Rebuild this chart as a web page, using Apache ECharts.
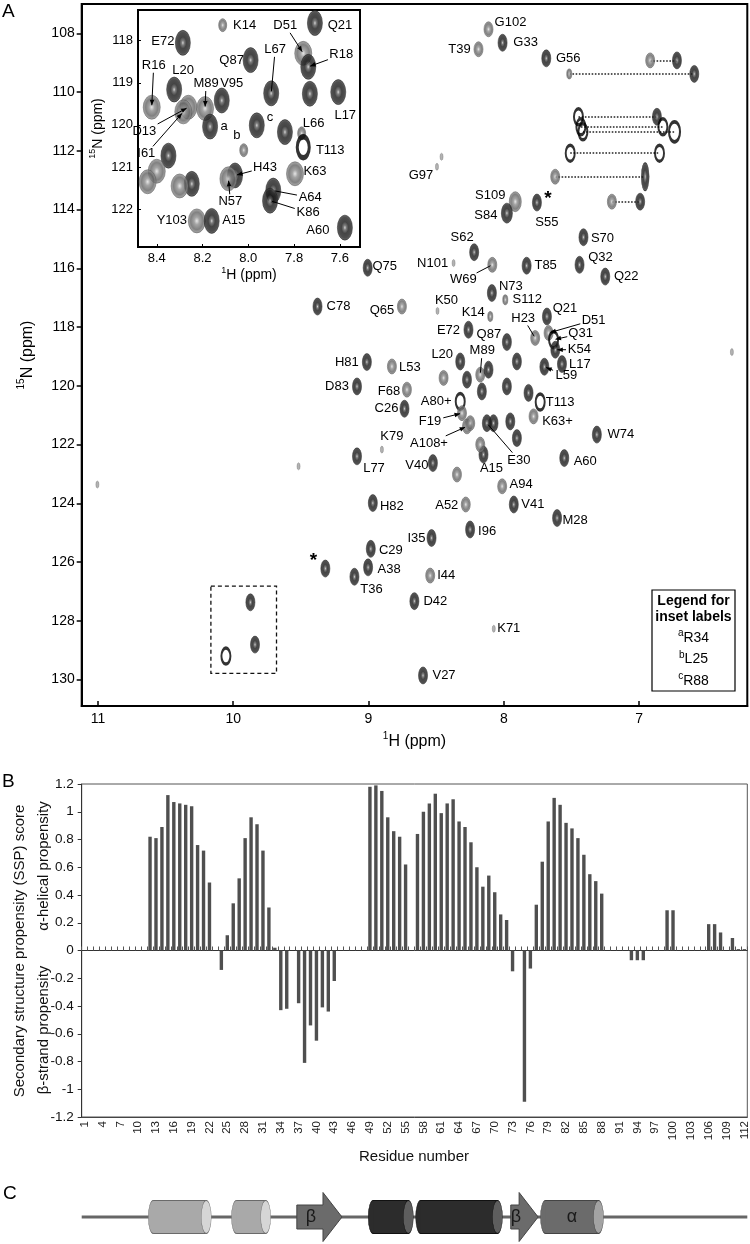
<!DOCTYPE html>
<html>
<head>
<meta charset="utf-8">
<title>HSQC spectrum, SSP scores and secondary structure</title>
<script src="https://cdn.jsdelivr.net/npm/echarts@6.0.0/dist/echarts.min.js"></script>
<style>
html,body{margin:0;padding:0;background:#fff;}
#chart{width:750px;height:1244px;}
</style>
</head>
<body>
<div id="chart"></div>
<script>
// ================= DATA =================
// ---- Panel A, main spectrum: backbone amide peaks (1H ppm, 15N ppm)
const mainName = ['G102','G33','T39','G56','G97','S109','S84','S55','S70','S62','Q32','T85','N101','Q75','W69','Q22','N73','S112','C78','Q65','K50','K14','Q21','E72','H23','D51','Q31','K54','Q87','H81','L53','L20','M89','L17','L59','D83','F68','C26','A80+','T113','K63+','F19','A108+','E30','W74','K79','L77','V40','A15','A60','A94','H82','A52','V41','M28','I96','I35','C29','A38','T36','I44','D42','K71','V27',
  '','','','','','','','',
  '','','','','','','','','','','','',''];
const mainH = [8.113,8.009,8.187,7.686,8.494,7.915,7.977,7.755,7.411,8.219,7.440,7.831,8.371,9.006,8.085,7.250,8.088,7.989,9.377,8.753,8.490,8.100,7.681,8.261,7.768,7.669,7.632,7.619,7.977,9.012,8.827,8.322,8.174,7.570,7.700,9.085,8.716,8.734,8.322,7.731,7.780,8.309,8.272,8.125,7.312,8.901,9.085,8.524,8.150,7.553,8.012,8.968,8.281,7.926,7.606,8.249,8.534,8.983,9.003,9.104,8.544,8.661,8.074,8.597,
  9.319,9.873,9.839,10.054,6.314,11.004,9.517,8.460,
  8.445,8.272,8.113,8.162,7.977,7.903,7.817,7.952,7.903,8.076,8.248,8.346,8.174];
const mainN = [107.86,108.32,108.54,108.85,112.54,113.73,114.12,113.76,114.94,115.45,115.88,115.91,115.82,115.98,115.88,116.28,116.84,117.07,117.30,117.30,117.45,117.64,117.64,118.09,118.37,118.20,118.43,118.77,118.51,119.19,119.34,119.17,119.62,119.26,119.35,120.02,120.13,120.78,120.53,120.55,121.04,120.93,121.38,121.27,121.66,122.17,122.40,122.63,122.34,122.46,123.42,123.99,124.04,124.04,124.50,124.89,125.18,125.55,126.18,126.50,126.46,127.33,128.27,129.86,
  126.22,127.37,128.81,129.20,118.85,123.36,122.74,112.20,
  119.73,119.79,119.45,120.19,120.02,119.17,120.24,121.21,121.78,121.27,121.27,123.02,122.00];

// ---- Panel A: side-chain NH2 peak pairs joined by dotted lines
const sideN  = [108.92,109.38,110.84,111.18,111.35,112.08,112.88,113.73];
const sideH1 = [6.918,7.516,7.448,7.430,7.415,7.509,7.620,7.201];
const sideH2 = [6.720,6.592,6.868,6.824,6.738,6.849,6.955,6.992];

// ---- Panel A: peaks marked with an asterisk
const starH = [7.755, 9.319];
const starN = [113.76, 126.22];

// ---- Panel A: dashed box region (ppm corners)
const boxH = [10.165, 9.680];
const boxN = [126.82, 129.79];

// ---- Panel A inset (expanded crowded region)
const insetName = ['K14','E72','Q87','L20','R16','M89','V95','D13','I61','a','b','','','H43','N57','Y103','A15','Q21','D51','R18','L17','','L67','c','L66','T113','K63','A64','K86','A60','','','',''];
const insetH = [8.112,8.286,7.990,8.324,8.422,8.189,8.116,8.262,8.284,8.167,7.963,8.349,8.247,8.058,8.087,8.225,8.160,7.709,7.760,7.738,7.607,7.731,7.900,7.840,7.767,7.760,7.796,7.891,7.905,7.578,8.400,8.440,8.300,8.020];
const insetN = [117.63,118.05,118.46,119.16,119.58,119.61,119.42,119.58,119.69,120.04,120.01,120.73,121.40,121.20,121.28,122.28,122.28,117.58,118.30,118.62,119.22,119.26,119.25,120.17,120.20,120.53,121.16,121.56,121.80,122.44,121.10,121.35,121.45,120.60];

// ---- Axis tick values
const mainHTicks = [7, 8, 9, 10, 11];
const mainNTicks = [108, 110, 112, 114, 116, 118, 120, 122, 124, 126, 128, 130];
const insetHTicks = [7.6, 7.8, 8.0, 8.2, 8.4];
const insetNTicks = [118, 119, 120, 121, 122];
const legendSup = ['a', 'b', 'c'];
const legendRes = ['R34', 'L25', 'R88'];

// ---- Panel B: SSP score per residue
const residues = ['1','2','3','4','5','6','7','8','9','10','11','12','13','14','15','16','17','18','19','20','21','22','23','24','25','26','27','28','29','30','31','32','33','34','35','36','37','38','39','40','41','42','43','44','45','46','47','48','49','50','51','52','53','54','55','56','57','58','59','60','61','62','63','64','65','66','67','68','69','70','71','72','73','74','75','76','77','78','79','80','81','82','83','84','85','86','87','88','89','90','91','92','93','94','95','96','97','98','99','100','101','102','103','104','105','106','107','108','109','110','111','112'];
const sspScore = [
  0,0,0,0,0,0,0,0,0,0,0,
  0.82,0.81,0.89,1.12,1.07,1.06,1.05,1.04,0.76,0.72,0.49,
  0,-0.14,0.11,
  0.34,0.52,0.81,0.96,0.91,0.72,0.31,
  0.02,-0.43,-0.42,0,
  -0.38,-0.81,-0.54,-0.65,-0.41,-0.44,-0.22,
  0,0,0,0,0,
  1.18,1.19,1.15,0.96,0.86,0.82,0.62,
  0,
  0.84,1.00,1.06,1.13,0.99,1.06,1.09,0.93,0.89,0.78,0.60,0.46,0.54,0.42,0.26,0.22,
  -0.15,0,-1.09,-0.13,
  0.33,0.64,0.93,1.10,1.05,0.92,0.88,0.81,0.69,0.55,0.50,0.41,
  0,0,0,0,
  -0.07,-0.07,-0.07,
  0,0,0,
  0.29,0.29,
  0,0,0,0,0,
  0.19,0.19,0.13,0,0.09,0.01,0.01
];

// ---- Panel C: secondary structure elements (residue ranges)
const ssStart  = [12, 26, 37, 49, 57, 73, 78];
const ssEnd    = [22, 32, 44, 56, 71, 77, 88];
const ssType   = ['helix', 'helix', 'strand', 'helix', 'helix', 'strand', 'helix'];
const ssSymbol = ['', '', 'β', '', '', 'β', 'α'];

// ================= STYLES (kept apart from data) =================
const FONT = '"Liberation Sans", Arial, Helvetica, sans-serif';
const mainKind = ['G','B','G','B','T','GL','BL','B','B','B','B','B','T','B','G','B','B','SG','B','G','T','SG','B','B','G','G','R','B','B','B','G','B','G','B','B','B','G','B','R','R','G','G','G','B','B','T','B','B','B','B','G','B','G','B','B','B','B','B','B','B','G','B','T','B',
  'B','B','B','R','T','T','T','T',
  'G','B','B','B','B','B','B','B','B','B','G','G','G'];
const side1Kind = ['G','SG','R','R','R','R','G','G'];
const side2Kind = ['B','B','B','R','RL','R','BT','B'];
const insetKind = ['IS','IB','IB','IB','IG','IG','IB','IG','IG','IB','IB','IB','IB','IB','IG','IG','IB','IB','IG','IB','IB','IB','IB','IB','IS','IR','IG','IB','IB','IB','IG','IG','IG','IS'];
const ssColor = ['light', 'light', 'mid', 'dark', 'dark', 'mid', 'mid'];
const ssPad = 0.3; // residue padding drawn at each element end

// label offsets in px [dx, dy, leader('a' arrow / 'l' line)]
const mainLabelPos = {
  'G102':[22,-7],'G33':[23,0],'T39':[-19,0],'G56':[22,0],'G97':[-16,9],'S109':[-25,-6],'S84':[-21,2],'S55':[10,20],
  'S70':[19,1],'S62':[-12,-15],'Q32':[21,-7],'T85':[19,0],'N101':[-21,0],'Q75':[17,-1],'W69':[-29,15,'l'],'Q22':[21,0],
  'N73':[19,-7],'S112':[22,0],'C78':[21,0],'Q65':[-20,4],'K50':[9,-11],'K14':[-17,-4],'Q21':[18,-8],'E72':[-20,1],
  'H23':[-12,-20,'l'],'D51':[45,-13,'a'],'Q31':[27,-6,'a'],'K54':[24,0,'a'],'Q87':[-18,-8],'H81':[-20,0],'L53':[18,1],
  'L20':[-18,-7],'M89':[2,-24,'l'],'L17':[18,0],'L59':[22,9,'a'],'D83':[-20,0],'F68':[-18,2],'C26':[-18,0],'A80+':[-24,0],
  'T113':[20,0],'K63+':[24,5],'F19':[-32,8,'a'],'A108+':[-38,17,'a'],'E30':[32,37,'l'],'W74':[24,0],'K79':[10,-13],
  'L77':[17,12],'V40':[-16,2],'A15':[8,14],'A60':[21,3],'A94':[19,-2],'H82':[19,3],'A52':[-19,1],'V41':[19,0],
  'M28':[18,2],'I96':[17,2],'I35':[-15,0],'C29':[20,2],'A38':[21,2],'T36':[17,13],'I44':[16,0],'D42':[21,0],
  'K71':[15,0],'V27':[21,0]
};
const insetLabelPos = {
  'K14':[22,0],'E72':[-20,-1],'Q87':[-19,0],'L20':[9,-19],'R16':[2,-42,'a'],'M89':[1,-25,'a'],'V95':[10,-17],
  'D13':[-44,24,'a'],'I61':[-37,42,'a'],'a':[14,0],'b':[-20,10],'c':[-15,-15],'L67':[4,-44,'l'],'H43':[30,-8,'a'],
  'N57':[2,23,'a'],'Y103':[-25,0],'A15':[22,0],'Q21':[25,2],'D51':[-18,-28,'a'],'R18':[33,-12,'a'],'L17':[7,23],
  'L66':[12,-10],'T113':[27,3],'K63':[20,-2],'A64':[37,7,'l'],'K86':[38,12,'l'],'A60':[-27,3]
};
const starPos = [[11,-4],[-12,-8]];

function radial(stops) {
  return {type:'radial', x:0.5, y:0.5, r:0.5, colorStops: stops.map(s => ({offset:s[0], color:s[1]}))};
}
const darkFill = radial([[0,'#c8c8c8'],[0.18,'#5c5c5c'],[0.45,'#161616'],[0.8,'#222'],[1,'#505050']]);
const grayFill = radial([[0,'#e0e0e0'],[0.3,'#8e8e8e'],[0.7,'#626262'],[1,'#9a9a9a']]);
const darkItem = {color: darkFill, borderColor: '#111', borderWidth: 0.6};
const grayItem = {color: grayFill, borderColor: '#4a4a4a', borderWidth: 0.6};
const PEAK = {
  B:  {size:[9,17],  item: darkItem},
  BL: {size:[11,20], item: darkItem},
  BT: {size:[8,28],  item: darkItem},
  G:  {size:[9,15],  item: grayItem},
  GL: {size:[12,20], item: grayItem},
  SG: {size:[5,10],  item: grayItem},
  T:  {size:[3,7],   item: {color:'#a0a0a0', borderColor:'#777', borderWidth:0.5}},
  R:  {size:[9,16],  item: {color:'rgba(255,255,255,0)', borderColor:'#000', borderWidth:2.6}},
  RL: {size:[11,20], item: {color:'rgba(255,255,255,0)', borderColor:'#000', borderWidth:2.8}},
  IB: {size:[15,25], item: darkItem},
  IG: {size:[17,24], item: grayItem},
  IS: {size:[8,13],  item: grayItem},
  IR: {size:[12,21], item: {color:'rgba(255,255,255,0)', borderColor:'#000', borderWidth:4}}
};
function peakData(hs, ns, kinds) {
  return hs.map((h, i) => ({value: [h, ns[i]], symbolSize: PEAK[kinds[i]].size, itemStyle: PEAK[kinds[i]].item}));
}

function labelSeries(hs, ns, names, offs, xi, yi, fontSize, z) {
  return {
    type: 'custom', xAxisIndex: xi, yAxisIndex: yi, z: z, clip: false, silent: true,
    data: hs.map((h, i) => [h, ns[i]]),
    renderItem: function (params, api) {
      const name = names[params.dataIndex];
      const o = offs[name];
      if (!name || !o) return null;
      const p = api.coord([api.value(0), api.value(1)]);
      const lx = p[0] + o[0], ly = p[1] + o[1];
      const kids = [{
        type: 'text', x: lx, y: ly,
        style: {text: name, fill: '#000', font: fontSize + 'px ' + FONT, align: 'center', verticalAlign: 'middle'}
      }];
      if (o[2]) {
        const dx = p[0] - lx, dy = p[1] - ly;
        const len = Math.hypot(dx, dy);
        const ux = dx / len, uy = dy / len;
        const hw = name.length * fontSize * 0.29 + 2, hh = fontSize * 0.5 + 1;
        const t = Math.min(Math.abs(ux) > 1e-6 ? hw / Math.abs(ux) : 1e9, Math.abs(uy) > 1e-6 ? hh / Math.abs(uy) : 1e9);
        if (t < len - 4) {
          const sx = lx + ux * t, sy = ly + uy * t;
          const ex = p[0] - ux * 2, ey = p[1] - uy * 2;
          kids.push({type: 'line', shape: {x1: sx, y1: sy, x2: ex, y2: ey}, style: {stroke: '#000', lineWidth: 1}});
          if (o[2] === 'a') {
            const bx = ex - ux * 5.5, by = ey - uy * 5.5;
            kids.push({type: 'polygon', shape: {points: [[ex, ey], [bx - uy * 2.3, by + ux * 2.3], [bx + uy * 2.3, by - ux * 2.3]]}, style: {fill: '#000'}});
          }
        }
      }
      return {type: 'group', children: kids};
    }
  };
}

const SS_COL = {
  light: {fill:'#a9a9a9', stroke:'#6a6a6a', cap:'#d6d6d6'},
  dark:  {fill:'#2c2c2c', stroke:'#111111', cap:'#5e5e5e'},
  mid:   {fill:'#6b6b6b', stroke:'#444444', cap:'#a3a3a3'}
};

const supRich = {s: {fontSize: 10, verticalAlign: 'top', fontFamily: FONT, lineHeight: 12}};

// ================= CHART =================
const chart = echarts.init(document.getElementById('chart'), null, {renderer: 'canvas'});

const option = {
  animation: false,
  backgroundColor: '#fff',
  textStyle: {fontFamily: FONT, color: '#000'},
  grid: [
    {left: 81.7, top: 4, width: 665.6, height: 702, show: true, borderColor: '#000', borderWidth: 2, outerBoundsMode: 'none', z: 0},
    {left: 138, top: 10, width: 222, height: 237, show: true, backgroundColor: '#fff', borderColor: '#000', borderWidth: 2, outerBoundsMode: 'none', z: 5},
    {left: 81.7, top: 784, width: 665.6, height: 333, show: true, borderColor: '#555', borderWidth: 1, outerBoundsMode: 'none'},
    {left: 81.7, top: 1195, width: 665.6, height: 44, show: false, outerBoundsMode: 'none'}
  ],
  xAxis: [
    { // 0: main 1H
      gridIndex: 0, type: 'value', inverse: true, min: 6.2, max: 11.12,
      axisLine: {show: true, onZero: false, lineStyle: {color: '#000', width: 2}},
      axisTick: {show: true, inside: true, length: 5, customValues: mainHTicks, lineStyle: {color: '#000', width: 1.5}},
      axisLabel: {customValues: mainHTicks, fontSize: 14, margin: 6, color: '#000', fontFamily: FONT},
      splitLine: {show: false},
      name: '{s|1}H (ppm)', nameLocation: 'middle', nameGap: 22,
      nameTextStyle: {fontSize: 16, color: '#000', fontFamily: FONT, lineHeight: 21, rich: supRich}
    },
    { // 1: inset 1H
      gridIndex: 1, type: 'value', inverse: true, min: 7.512, max: 8.482, z: 6,
      axisLine: {show: true, onZero: false, lineStyle: {color: '#000', width: 2}},
      axisTick: {show: true, inside: true, length: 3, customValues: insetHTicks, lineStyle: {color: '#000'}},
      axisLabel: {customValues: insetHTicks, fontSize: 13, margin: 5, color: '#000', fontFamily: FONT, formatter: v => v.toFixed(1)},
      splitLine: {show: false},
      name: '{s|1}H (ppm)', nameLocation: 'middle', nameGap: 19,
      nameTextStyle: {fontSize: 14, color: '#000', fontFamily: FONT, lineHeight: 19, rich: {s: {fontSize: 9, verticalAlign: 'top', lineHeight: 11}}}
    },
    { // 2: panel B residue labels
      gridIndex: 2, type: 'category', data: residues, position: 'bottom',
      axisLine: {show: true, onZero: false, lineStyle: {color: '#444', width: 1}},
      axisTick: {show: false},
      axisLabel: {interval: 2, rotate: 90, fontSize: 11.5, margin: 4, color: '#222', fontFamily: FONT},
      splitLine: {show: false}
    },
    { // 3: panel B zero line with ticks
      gridIndex: 2, type: 'category', data: residues, position: 'bottom',
      axisLine: {show: true, onZero: true, lineStyle: {color: '#333', width: 1}},
      axisTick: {show: true, inside: true, length: 4, interval: 0, lineStyle: {color: '#555'}},
      axisLabel: {show: false},
      splitLine: {show: false}
    },
    { // 4: panel C residue scale (hidden)
      gridIndex: 3, type: 'value', min: 0.5, max: 112.5, show: false
    }
  ],
  yAxis: [
    { // 0: main 15N
      gridIndex: 0, type: 'value', inverse: true, min: 107, max: 130.9,
      axisLine: {show: true, onZero: false, lineStyle: {color: '#000', width: 2}},
      axisTick: {show: true, inside: false, length: 5, customValues: mainNTicks, lineStyle: {color: '#000', width: 1.5}},
      axisLabel: {customValues: mainNTicks, fontSize: 14, margin: 7, color: '#000', fontFamily: FONT},
      splitLine: {show: false},
      name: '{s|15}N (ppm)', nameLocation: 'middle', nameGap: 44, nameRotate: 90,
      nameTextStyle: {fontSize: 16, color: '#000', fontFamily: FONT, lineHeight: 21, rich: supRich}
    },
    { // 1: inset 15N
      gridIndex: 1, type: 'value', inverse: true, min: 117.27, max: 122.9, z: 6,
      axisLine: {show: true, onZero: false, lineStyle: {color: '#000', width: 2}},
      axisTick: {show: true, inside: true, length: 3, customValues: insetNTicks, lineStyle: {color: '#000'}},
      axisLabel: {customValues: insetNTicks, fontSize: 13, margin: 5, color: '#000', fontFamily: FONT},
      splitLine: {show: false},
      name: '{s|15}N (ppm)', nameLocation: 'middle', nameGap: 28, nameRotate: 90,
      nameTextStyle: {fontSize: 14, color: '#000', fontFamily: FONT, lineHeight: 19, rich: {s: {fontSize: 9, verticalAlign: 'top', lineHeight: 11}}}
    },
    { // 2: SSP score
      gridIndex: 2, type: 'value', min: -1.2, max: 1.2, interval: 0.2,
      axisLine: {show: true, lineStyle: {color: '#333', width: 1}},
      axisTick: {show: true, inside: false, length: 4, lineStyle: {color: '#333'}},
      axisLabel: {fontSize: 13.5, margin: 8, color: '#111', fontFamily: FONT, formatter: v => String(Math.round(v * 10) / 10)},
      splitLine: {show: false}
    },
    { // 3: panel C (hidden)
      gridIndex: 3, type: 'value', min: -1, max: 1, show: false
    }
  ],
  series: [
    { // side-chain dotted connectors
      type: 'lines', coordinateSystem: 'cartesian2d', xAxisIndex: 0, yAxisIndex: 0, z: 1, silent: true,
      polyline: false,
      lineStyle: {color: '#222', width: 1.6, type: 'dotted', opacity: 1},
      data: sideN.map((n, i) => ({coords: [[sideH1[i], n], [sideH2[i], n]]}))
    },
    { // side-chain peaks (left ends)
      type: 'scatter', xAxisIndex: 0, yAxisIndex: 0, z: 2, symbol: 'circle', silent: true,
      data: peakData(sideH1, sideN, side1Kind)
    },
    { // side-chain peaks (right ends)
      type: 'scatter', xAxisIndex: 0, yAxisIndex: 0, z: 2, symbol: 'circle', silent: true,
      data: peakData(sideH2, sideN, side2Kind)
    },
    { // main backbone peaks
      type: 'scatter', xAxisIndex: 0, yAxisIndex: 0, z: 2, symbol: 'circle', silent: true,
      data: peakData(mainH, mainN, mainKind),
      markArea: {
        silent: true,
        itemStyle: {color: 'rgba(0,0,0,0)', borderColor: '#111', borderWidth: 1.3, borderType: [4, 3]},
        data: [[{coord: [boxH[0], boxN[0]]}, {coord: [boxH[1], boxN[1]]}]]
      }
    },
    labelSeries(mainH, mainN, mainName, mainLabelPos, 0, 0, 13, 4),
    { // asterisks
      type: 'custom', xAxisIndex: 0, yAxisIndex: 0, z: 4, clip: false, silent: true,
      data: starH.map((h, i) => [h, starN[i]]),
      renderItem: function (params, api) {
        const p = api.coord([api.value(0), api.value(1)]);
        const o = starPos[params.dataIndex];
        return {type: 'text', x: p[0] + o[0], y: p[1] + o[1],
          style: {text: '*', fill: '#000', font: 'bold 19px ' + FONT, align: 'center', verticalAlign: 'middle'}};
      }
    },
    { // inset peaks
      type: 'scatter', xAxisIndex: 1, yAxisIndex: 1, z: 7, symbol: 'circle', silent: true, clip: true,
      data: peakData(insetH, insetN, insetKind)
    },
    labelSeries(insetH, insetN, insetName, insetLabelPos, 1, 1, 13, 8),
    { // panel B bars
      type: 'bar', xAxisIndex: 2, yAxisIndex: 2, z: 3, silent: true,
      data: sspScore, barWidth: 3.4,
      itemStyle: {color: '#4f4f4f'}
    },
    { // panel C secondary structure diagram
      type: 'custom', xAxisIndex: 4, yAxisIndex: 3, z: 3, silent: true, clip: false,
      data: ssStart.map((s, i) => [s, ssEnd[i]]),
      renderItem: function (params, api) {
        const i = params.dataIndex;
        const cs = params.coordSys;
        const a = api.coord([api.value(0) - ssPad, 0]);
        const b = api.coord([api.value(1) + ssPad, 0]);
        const y = a[1];
        const kids = [];
        if (i === 0) {
          kids.push({type: 'line', shape: {x1: cs.x, y1: y, x2: cs.x + cs.width, y2: y}, style: {stroke: '#666', lineWidth: 3}});
        }
        const col = SS_COL[ssColor[i]];
        if (ssType[i] === 'helix') {
          const ry = 16.5, rx = 5;
          const xl = a[0] + rx, xr = b[0] - rx;
          kids.push({type: 'circle', x: xl, y: y, scaleX: rx / ry, shape: {cx: 0, cy: 0, r: ry}, style: {fill: col.fill, stroke: col.stroke, lineWidth: 1.2}});
          kids.push({type: 'rect', shape: {x: xl, y: y - ry, width: xr - xl, height: 2 * ry}, style: {fill: col.fill}});
          kids.push({type: 'line', shape: {x1: xl, y1: y - ry, x2: xr, y2: y - ry}, style: {stroke: col.stroke, lineWidth: 1}});
          kids.push({type: 'line', shape: {x1: xl, y1: y + ry, x2: xr, y2: y + ry}, style: {stroke: col.stroke, lineWidth: 1}});
          kids.push({type: 'circle', x: xr, y: y, scaleX: rx / ry, shape: {cx: 0, cy: 0, r: ry}, style: {fill: col.cap, stroke: col.stroke, lineWidth: 1.2}});
        } else {
          const bh = 12, hh = 24.5, hl = 19;
          const xh = b[0] - hl;
          kids.push({type: 'polygon', shape: {points: [[a[0], y - bh], [xh, y - bh], [xh, y - hh], [b[0], y], [xh, y + hh], [xh, y + bh], [a[0], y + bh]]},
            style: {fill: col.fill, stroke: col.stroke, lineWidth: 1}});
        }
        if (ssSymbol[i]) {
          const cx = ssType[i] === 'helix' ? (a[0] + b[0]) / 2 : (a[0] + b[0] - 19) / 2 + 1;
          kids.push({type: 'text', x: cx, y: y, style: {text: ssSymbol[i], fill: '#1a1a1a', font: '18px ' + FONT, align: 'center', verticalAlign: 'middle'}});
        }
        return {type: 'group', children: kids};
      }
    }
  ],
  graphic: [
    {type: 'text', left: 2, top: 2, z: 100, style: {text: 'A', font: '19px ' + FONT, fill: '#000'}},
    {type: 'text', left: 2, top: 772, z: 100, style: {text: 'B', font: '19px ' + FONT, fill: '#000'}},
    {type: 'text', left: 3, top: 1184, z: 100, style: {text: 'C', font: '19px ' + FONT, fill: '#000'}},
    {type: 'text', x: 20, y: 951, rotation: Math.PI / 2, z: 100,
      style: {text: 'Secondary structure propensity (SSP) score', font: '15px ' + FONT, fill: '#111', align: 'center', verticalAlign: 'middle'}},
    {type: 'text', x: 44, y: 866, rotation: Math.PI / 2, z: 100,
      style: {text: 'α-helical propensity', font: '15px ' + FONT, fill: '#111', align: 'center', verticalAlign: 'middle'}},
    {type: 'text', x: 44, y: 1030, rotation: Math.PI / 2, z: 100,
      style: {text: 'β-strand propensity', font: '15px ' + FONT, fill: '#111', align: 'center', verticalAlign: 'middle'}},
    {type: 'text', x: 414, y: 1157, z: 100,
      style: {text: 'Residue number', font: '15px ' + FONT, fill: '#111', align: 'center', verticalAlign: 'middle'}},
    {type: 'group', z: 100, children: [
      {type: 'rect', shape: {x: 652, y: 590, width: 83, height: 101}, style: {fill: '#fff', stroke: '#000', lineWidth: 1.2}},
      {type: 'text', x: 693.5, y: 601, style: {text: 'Legend for', font: 'bold 14px ' + FONT, fill: '#000', align: 'center', verticalAlign: 'middle'}},
      {type: 'text', x: 693.5, y: 617, style: {text: 'inset labels', font: 'bold 14px ' + FONT, fill: '#000', align: 'center', verticalAlign: 'middle'}}
    ].concat(legendRes.map((r, i) => ({
      type: 'text', x: 693.5, y: 638 + i * 21.5,
      style: {text: '{s|' + legendSup[i] + '}' + r, font: '14px ' + FONT, fill: '#000', align: 'center', verticalAlign: 'middle',
        lineHeight: 19, rich: {s: {fontSize: 10, verticalAlign: 'top', lineHeight: 11}}}
    })))}
  ]
};

chart.setOption(option);
</script>
</body>
</html>
